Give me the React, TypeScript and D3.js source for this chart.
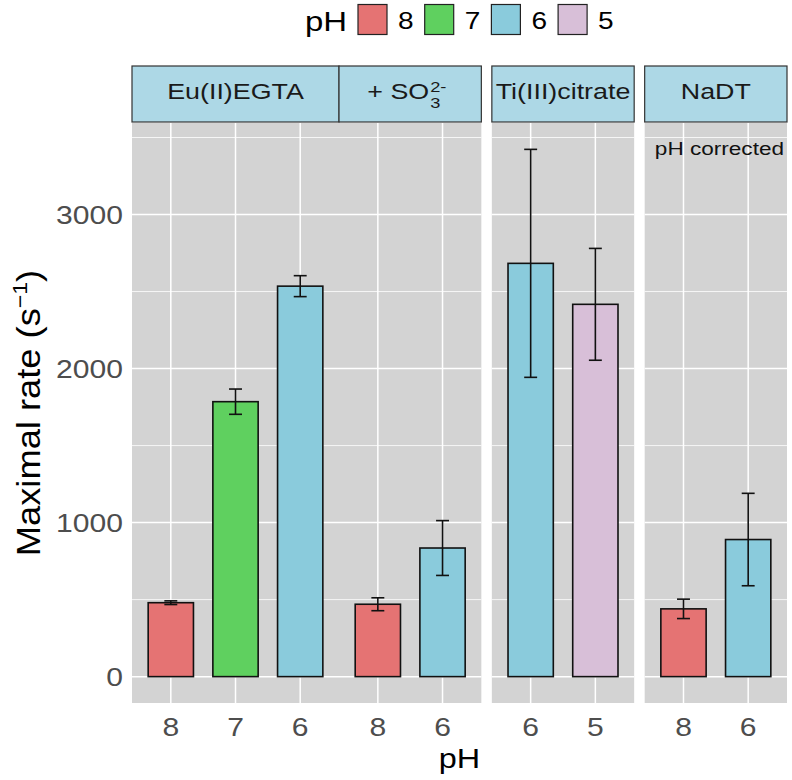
import React from 'react';
import * as d3 from 'd3';

// legend / fill levels
const phLevels = ['8', '7', '6', '5'];
const phColors = ['#E57373', '#5FD05F', '#8ACBDC', '#D8BFD8'];

// facets and the x categories inside each
const facetNames = ['Eu(II)EGTA', '+ SO', 'Ti(III)citrate', 'NaDT'];
const facetCats = [['8', '7', '6'], ['8', '6'], ['6', '5'], ['8', '6']];

// bars
const barFacet = [0, 0, 0, 1, 1, 2, 2, 3, 3];
const barPH = ['8', '7', '6', '8', '6', '6', '5', '8', '6'];
const barRate = [480, 1785, 2535, 470, 835, 2683, 2417, 440, 890];
const barErr = [12, 82, 68, 42, 178, 740, 363, 63, 300];

const yMajor = [0, 1000, 2000, 3000];
const yMinor = [500, 1500, 2500, 3500];

const W = 792;
const H = 780;
const panelLeft = 132;
const panelRight = 787;
const panelTop = 123;
const panelBottom = 703;
const stripTop = 66;
const gaps = [0, 10.5, 10.5];
const FONT = '"Liberation Sans", Arial, sans-serif';
const SX = 1.22; // text in the picture runs wider than Arial

// text stretched along its reading direction
function SText({ x, y, size, anchor = 'middle', fill = '#000', rotate = false, sx = SX, children }: any) {
  const tf = rotate
    ? `translate(${x},${y}) rotate(-90) scale(${sx},1)`
    : `translate(${x},${y}) scale(${sx},1)`;
  return (
    <text transform={tf} fontSize={size} fontFamily={FONT} textAnchor={anchor} fill={fill}>
      {children}
    </text>
  );
}

export default function App() {
  // facet widths in category units (ggplot discrete expansion 0.6)
  const units = facetCats.map(c => c.length + 0.2);
  const u = (panelRight - panelLeft - d3.sum(gaps)) / d3.sum(units);
  const facetX: [number, number][] = [];
  let cur = panelLeft;
  units.forEach((n, i) => {
    if (i > 0) cur += gaps[i - 1];
    facetX.push([cur, cur + n * u]);
    cur += n * u;
  });
  const xScales = facetCats.map((cats, i) =>
    d3.scalePoint<string>().domain(cats).range(facetX[i]).padding(0.6)
  );

  const top = d3.max(barRate.map((v, i) => v + barErr[i])) as number;
  const y = d3.scaleLinear().domain([-0.05 * top, 1.05 * top]).range([panelBottom, panelTop]);
  const color = d3.scaleOrdinal<string, string>().domain(phLevels).range(phColors);

  const barW = 0.7 * u;
  const capW = 0.2 * u;

  // Eu(II)EGTA and +SO3 panels touch each other
  const panelGroups = [[0, 1], [2], [3]];

  const legendX0 = 358;
  const legendStep = 66.7;

  return (
    <svg width={W} height={H} style={{ position: 'absolute', left: 0, top: 0, background: '#fff' }}>
      {/* legend */}
      <SText x={305} y={31} size={27} anchor="start">pH</SText>
      {phLevels.map((p, i) => (
        <g key={p}>
          <rect x={legendX0 + i * legendStep} y={4.5} width={29} height={30}
            fill={color(p)} stroke="#222" strokeWidth={1.2} />
          <SText x={legendX0 + i * legendStep + 40} y={29} size={23} anchor="start">{p}</SText>
        </g>
      ))}

      {/* panel backgrounds + grids */}
      {panelGroups.map((g, gi) => {
        const x0 = facetX[g[0]][0];
        const x1 = facetX[g[g.length - 1]][1];
        return (
          <g key={gi}>
            <rect x={x0} y={panelTop} width={x1 - x0} height={panelBottom - panelTop} fill="#D3D3D3" />
            {yMinor.map(t => (
              <line key={'mi' + t} x1={x0} x2={x1} y1={y(t)} y2={y(t)} stroke="#fff" strokeWidth={0.8} />
            ))}
            {yMajor.map(t => (
              <line key={'ma' + t} x1={x0} x2={x1} y1={y(t)} y2={y(t)} stroke="#fff" strokeWidth={1.5} />
            ))}
          </g>
        );
      })}
      {facetCats.map((cats, fi) =>
        cats.map(c => (
          <line key={fi + c} x1={xScales[fi](c)} x2={xScales[fi](c)} y1={panelTop} y2={panelBottom}
            stroke="#fff" strokeWidth={1.5} />
        ))
      )}

      {/* bars */}
      {barRate.map((v, i) => {
        const cx = xScales[barFacet[i]](barPH[i]) as number;
        return (
          <rect key={'b' + i} x={cx - barW / 2} y={y(v)} width={barW} height={y(0) - y(v)}
            fill={color(barPH[i])} stroke="#111" strokeWidth={1.6} />
        );
      })}
      {/* error bars */}
      {barRate.map((v, i) => {
        const cx = xScales[barFacet[i]](barPH[i]) as number;
        const hi = y(v + barErr[i]);
        const lo = y(v - barErr[i]);
        return (
          <g key={'e' + i} stroke="#111" strokeWidth={1.6}>
            <line x1={cx} x2={cx} y1={hi} y2={lo} />
            <line x1={cx - capW / 2} x2={cx + capW / 2} y1={hi} y2={hi} />
            <line x1={cx - capW / 2} x2={cx + capW / 2} y1={lo} y2={lo} />
          </g>
        );
      })}

      {/* strips */}
      {facetX.map(([x0, x1], i) => (
        <rect key={'s' + i} x={x0} y={stripTop} width={x1 - x0} height={panelTop - 1 - stripTop}
          fill="#ADD8E6" stroke="#333" strokeWidth={1.2} />
      ))}
      {facetX.map(([x0, x1], i) => {
        const cx = (x0 + x1) / 2;
        if (i === 1) {
          return (
            <g key={'st' + i}>
              <SText x={cx + 19} y={99} size={22} anchor="end" fill="#1A1A1A">{facetNames[i]}</SText>
              <SText x={cx + 20} y={108} size={15} anchor="start" fill="#1A1A1A">3</SText>
              <SText x={cx + 20} y={92} size={15} anchor="start" fill="#1A1A1A">2-</SText>
            </g>
          );
        }
        return <SText key={'st' + i} x={cx} y={99} size={22} fill="#1A1A1A">{facetNames[i]}</SText>;
      })}

      {/* annotation */}
      <SText x={facetX[3][1] - 3} y={155} size={18.5} anchor="end" fill="#111">pH corrected</SText>

      {/* y axis */}
      {yMajor.map(t => (
        <SText key={'yt' + t} x={123} y={y(t) + 9} size={25.5} sx={1.18} anchor="end" fill="#4D4D4D">{t}</SText>
      ))}
      <SText x={40} y={(panelTop + panelBottom) / 2} size={33} rotate sx={1.1}>
        Maximal rate (s<tspan dy={-13} fontSize={21}>−1</tspan><tspan dy={13}>)</tspan>
      </SText>

      {/* x axis */}
      {facetCats.map((cats, fi) =>
        cats.map(c => (
          <SText key={'xt' + fi + c} x={xScales[fi](c)} y={736} size={25.5} sx={1.18} fill="#4D4D4D">{c}</SText>
        ))
      )}
      <SText x={(panelLeft + panelRight) / 2} y={768} size={27} sx={1.2}>pH</SText>
    </svg>
  );
}
